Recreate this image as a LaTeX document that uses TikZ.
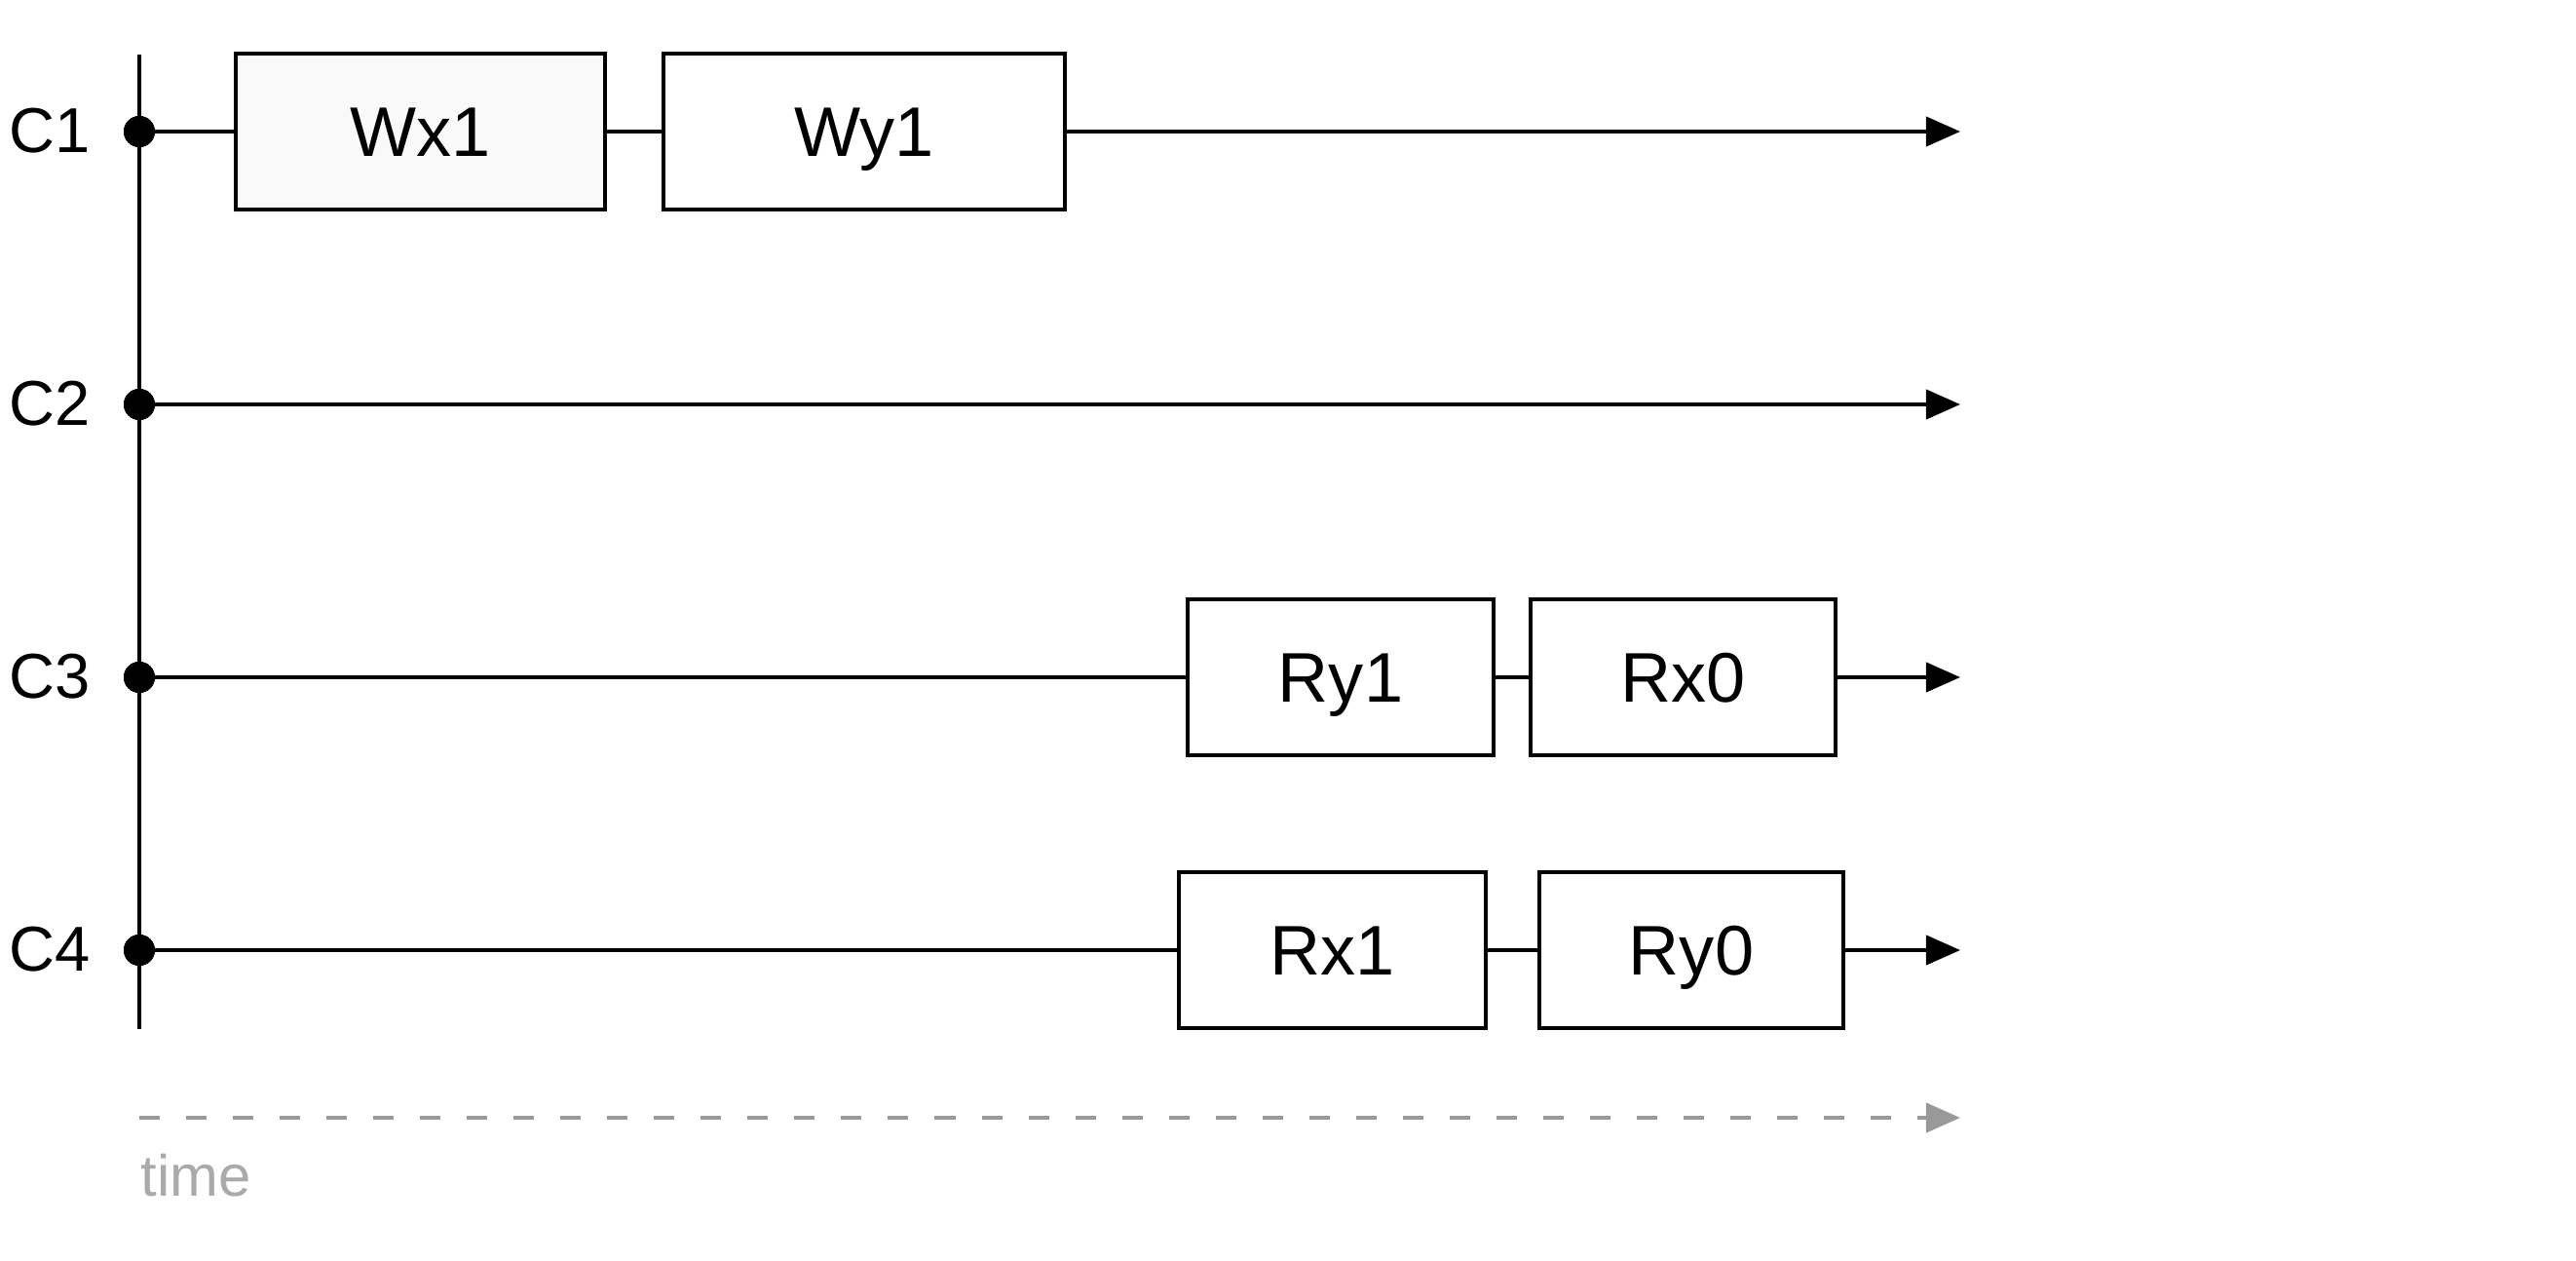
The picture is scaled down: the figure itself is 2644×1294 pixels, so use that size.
\documentclass[tikz,border=0pt]{standalone}
\usepackage{fontspec}
\setmainfont{Liberation Sans}
\usetikzlibrary{arrows.meta}
\definecolor{boxfill}{HTML}{F9F9F9}
\definecolor{timegray}{HTML}{999999}
\definecolor{timetext}{HTML}{AAAAAA}
\begin{document}
\begin{tikzpicture}[x=0.01cm,y=-0.01cm,
  line width=1.1pt,
  opbox/.style={draw=black, line width=1.1pt, rectangle, inner sep=0pt, font=\fontsize{20.5}{24}\selectfont, text height=14.6pt, text depth=0pt},
  dotnode/.style={circle, fill=black, inner sep=0pt, minimum size=0.32cm},
  clabel/.style={anchor=center, inner sep=0pt, font=\fontsize{18.5}{22}\selectfont, text height=13.2pt, text depth=0pt},
  arr/.style={-{Triangle[length=0.35cm,width=0.3cm]}},
  timearr/.style={draw=timegray, dash pattern=on 0.21cm off 0.27cm, -{Triangle[length=0.35cm,width=0.3cm]}}
]
\useasboundingbox (0,0) rectangle (2644,1294);

% vertical axis
\coordinate (axtop) at (143,56);
\coordinate (axbot) at (143,1056);
\draw (axtop) -- (axbot);

% row labels and dots
\node[clabel] (l1) at (51,133) {C1};
\node[clabel] (l2) at (51,413) {C2};
\node[clabel] (l3) at (51,693) {C3};
\node[clabel] (l4) at (51,973) {C4};
\node[dotnode] (d1) at (143,135) {};
\node[dotnode] (d2) at (143,415) {};
\node[dotnode] (d3) at (143,695) {};
\node[dotnode] (d4) at (143,975) {};

% end coordinates
\coordinate (e1) at (2012,135);
\coordinate (e2) at (2012,415);
\coordinate (e3) at (2012,695);
\coordinate (e4) at (2012,975);

% boxes
\node[opbox, fill=boxfill, minimum width=3.78cm, minimum height=1.6cm] (wx1) at (431.5,135) {Wx1};
\node[opbox, fill=white, minimum width=4.12cm, minimum height=1.6cm] (wy1) at (887,135) {Wy1};
\node[opbox, fill=white, minimum width=3.14cm, minimum height=1.6cm] (ry1) at (1376,695) {Ry1};
\node[opbox, fill=white, minimum width=3.12cm, minimum height=1.6cm] (rx0) at (1727.5,695) {Rx0};
\node[opbox, fill=white, minimum width=3.14cm, minimum height=1.6cm] (rx1) at (1367.5,975) {Rx1};
\node[opbox, fill=white, minimum width=3.12cm, minimum height=1.6cm] (ry0) at (1736,975) {Ry0};

% connectors
\draw (d1.center) -- (wx1.west);
\draw (wx1.east) -- (wy1.west);
\draw[arr] (wy1.east) -- (e1);

\draw[arr] (d2.center) -- (e2);

\draw (d3.center) -- (ry1.west);
\draw (ry1.east) -- (rx0.west);
\draw[arr] (rx0.east) -- (e3);

\draw (d4.center) -- (rx1.west);
\draw (rx1.east) -- (ry0.west);
\draw[arr] (ry0.east) -- (e4);

% redraw dots on top
\node[dotnode] at (d1) {};
\node[dotnode] at (d2) {};
\node[dotnode] at (d3) {};
\node[dotnode] at (d4) {};

% time axis
\coordinate (ts) at (143,1147);
\coordinate (te) at (2012,1147);
\draw[timearr] (ts) -- (te);
\node[anchor=west, inner sep=0pt, text=timetext, font=\fontsize{17}{20}\selectfont] (timelbl) at (143,1206) {time};
\end{tikzpicture}
\end{document}
